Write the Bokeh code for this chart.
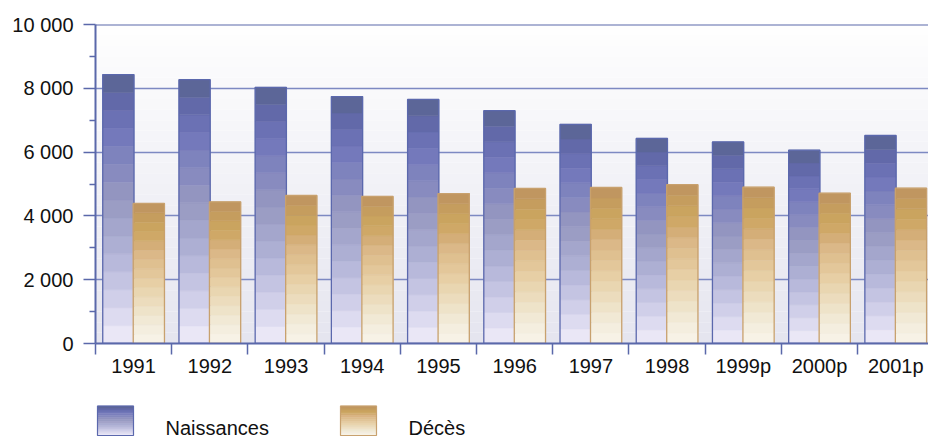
from bokeh.plotting import figure
from bokeh.models import Range1d, FixedTicker, Span, ColumnDataSource
from bokeh.layouts import column
from bokeh.core.properties import value
from bokeh.embed import file_html
from bokeh.resources import INLINE

# ---------------- data ----------------
categories = ["1991", "1992", "1993", "1994", "1995", "1996", "1997", "1998",
              "1999p", "2000p", "2001p"]
naissances = [8430, 8270, 8030, 7740, 7650, 7300, 6870, 6430, 6320, 6060, 6520]
deces = [4390, 4440, 4640, 4610, 4700, 4860, 4890, 4980, 4900, 4710, 4870]
y_ticks = [0, 2000, 4000, 6000, 8000, 10000]
y_minor = [1000, 3000, 5000, 7000, 9000]
y_tick_labels = ["0", "2 000", "4 000", "6 000", "8 000", "10 000"]
series_names = ["Naissances", "Décès"]

# ---------------- styles ----------------
FONT = "Liberation Sans"
FSIZE = "20px"
AXIS_COLOR = "#5a68aa"
GRID_COLOR = "#7d89c2"
# band colours, top -> bottom
NAI_BANDS = ["#5c6698", "#6269a9", "#6b71b4", "#7479bb", "#7e83bd", "#888bbf",
             "#9395c0", "#9b9dc4", "#a4a6cc", "#adafd3", "#b8b9db", "#c4c4e2",
             "#d0cfe9", "#dddbf0", "#eae7f6"]
DEC_BANDS = ["#c09660", "#c59d5e", "#caa45f", "#cfa867", "#d4ae78", "#dbb888",
             "#dfc090", "#e3c79a", "#e7cfa5", "#e9d6b1", "#ecdcbd", "#eee3c9",
             "#f1e9d5", "#f4eedf", "#f7f2e6"]
NAI_LINE = "#5b68ad"
DEC_LINE = "#c8a16e"
N_BANDS = len(NAI_BANDS)
OFFSET = 0.2
BAR_W = 0.41

FRAME_W, FRAME_H = 833, 319
BORDER_L, BORDER_T, BORDER_B = 95, 24, 52
LEG_H = 43


def hex_to_rgb(h):
    h = h.lstrip("#")
    return tuple(int(h[i:i + 2], 16) for i in (0, 2, 4))


def mix(c1, c2, t):
    a, b = hex_to_rgb(c1), hex_to_rgb(c2)
    return "#%02x%02x%02x" % tuple(round(a[i] + (b[i] - a[i]) * t) for i in range(3))


x_range = Range1d(-0.5, 10.43)
y_range = Range1d(0, 10000)

p = figure(title=None, frame_width=FRAME_W, frame_height=FRAME_H,
           min_border_left=BORDER_L, min_border_right=0, min_border_top=BORDER_T,
           min_border_bottom=BORDER_B, x_range=x_range, y_range=y_range,
           output_backend="svg", toolbar_location=None, tools="")
p.outline_line_color = None
p.background_fill_color = "white"
p.border_fill_color = "white"

# background vertical gradient of the plotting area
NB = 30
bg_bottom, bg_top, bg_col = [], [], []
for k in range(NB):
    bg_bottom.append(y_range.start + (y_range.end - y_range.start) * k / NB)
    bg_top.append(y_range.start + (y_range.end - y_range.start) * (k + 1) / NB)
    bg_col.append(mix("#e5e5ef", "#fefefe", (k + 0.5) / NB))
p.quad(left=-1, right=12, bottom=bg_bottom, top=bg_top, fill_color=bg_col,
       line_color=None, level="image")


# gradient bars: each bar split into equal bands
def banded(values, shift, colors):
    xs, bots, tops, cols = [], [], [], []
    for i, v in enumerate(values):
        for k in range(N_BANDS):
            xs.append(i + shift)
            bots.append(v * k / N_BANDS)
            tops.append(v * (k + 1) / N_BANDS)
            cols.append(colors[N_BANDS - 1 - k])
    return ColumnDataSource(dict(x=xs, bottom=bots, top=tops, color=cols))


idx = list(range(len(categories)))
p.vbar(x="x", bottom="bottom", top="top", width=BAR_W, fill_color="color",
       line_color="color", line_width=0.5, source=banded(naissances, -OFFSET, NAI_BANDS))
p.vbar(x=[i - OFFSET for i in idx], top=naissances, bottom=0, width=BAR_W,
       fill_color=None, line_color=NAI_LINE, line_width=1.3)
p.vbar(x="x", bottom="bottom", top="top", width=BAR_W, fill_color="color",
       line_color="color", line_width=0.5, source=banded(deces, OFFSET, DEC_BANDS))
p.vbar(x=[i + OFFSET for i in idx], top=deces, bottom=0, width=BAR_W,
       fill_color=None, line_color=DEC_LINE, line_width=1.3)

# top line at 10 000
p.add_layout(Span(location=y_range.end, dimension="width", line_color=AXIS_COLOR,
                  line_width=2))

# y axis
yax = p.yaxis[0]
yax.ticker = FixedTicker(ticks=y_ticks, minor_ticks=y_minor)
yax.major_label_overrides = {t: l for t, l in zip(y_ticks, y_tick_labels)}
yax.axis_line_color = AXIS_COLOR
yax.axis_line_width = 2
yax.major_tick_line_color = AXIS_COLOR
yax.major_tick_line_width = 1.5
yax.minor_tick_line_color = AXIS_COLOR
yax.minor_tick_line_width = 1.5
yax.major_tick_in = 0
yax.major_tick_out = 12
yax.minor_tick_in = 0
yax.minor_tick_out = 6
yax.major_label_standoff = 10
yax.major_label_text_font = FONT
yax.major_label_text_font_size = FSIZE
yax.major_label_text_color = "#111111"

# x axis: labels at centres, separator ticks at boundaries
xax = p.xaxis[0]
xax.ticker = FixedTicker(ticks=idx, minor_ticks=[i - 0.5 for i in idx] + [idx[-1] + 0.5])
xax.major_label_overrides = {i: c for i, c in zip(idx, categories)}
xax.axis_line_color = AXIS_COLOR
xax.axis_line_width = 2
xax.major_tick_line_color = None
xax.major_tick_in = 0
xax.major_tick_out = 0
xax.minor_tick_line_color = AXIS_COLOR
xax.minor_tick_line_width = 1.5
xax.minor_tick_in = 0
xax.minor_tick_out = 11
xax.major_label_standoff = 0
xax.major_label_text_font = FONT
xax.major_label_text_font_size = FSIZE
xax.major_label_text_color = "#111111"

p.ygrid.ticker = FixedTicker(ticks=y_ticks)
p.ygrid.grid_line_color = GRID_COLOR
p.ygrid.grid_line_width = 1.5
p.xgrid.visible = False

# ---------------- legend strip (frame aligned with the chart frame) ----------------
leg = figure(title=None, frame_width=FRAME_W, frame_height=LEG_H,
             min_border_left=BORDER_L, min_border_right=0, min_border_top=0,
             min_border_bottom=0, x_range=Range1d(0, FRAME_W), y_range=Range1d(0, LEG_H),
             output_backend="svg", toolbar_location=None, tools="")
leg.axis.visible = False
leg.grid.visible = False
leg.outline_line_color = None
leg.background_fill_color = "white"
leg.border_fill_color = "white"

sw_left = [2, 245]          # px from frame left
sw_w = 36
sw_b, sw_t = 3, 32.5        # px from strip bottom
txt_left = [70, 313]
txt_mid = 10.5              # vertical middle of the label text, px from strip bottom
for sx, bands, lc in zip(sw_left, [NAI_BANDS, DEC_BANDS], [NAI_LINE, DEC_LINE]):
    n = len(bands)
    bots = [sw_b + (sw_t - sw_b) * k / n for k in range(n)]
    tops = [sw_b + (sw_t - sw_b) * (k + 1) / n for k in range(n)]
    cols = [bands[n - 1 - k] for k in range(n)]
    leg.quad(left=sx, right=sx + sw_w, bottom=bots, top=tops, fill_color=cols,
             line_color=cols, line_width=0.5)
    leg.quad(left=[sx], right=[sx + sw_w], bottom=[sw_b], top=[sw_t],
             fill_color=None, line_color=lc, line_width=1.2)
leg.text(x=txt_left, y=[txt_mid, txt_mid], text=series_names, text_font=value(FONT),
         text_font_size=FSIZE, text_color="#111111", text_baseline="middle")

layout = column(p, leg, spacing=0)
open("out.html", "w").write(file_html(layout, INLINE))
